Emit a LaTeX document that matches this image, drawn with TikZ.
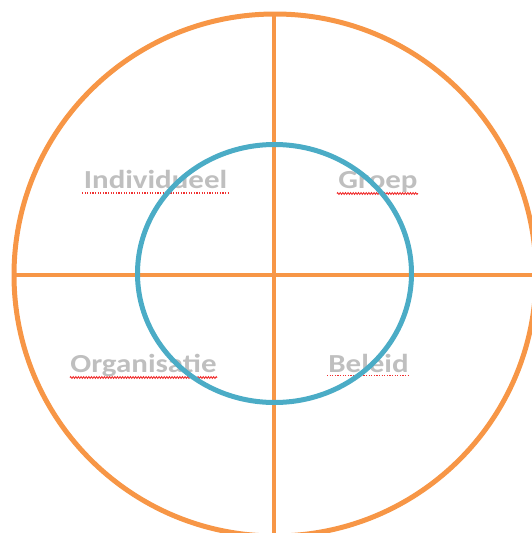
\documentclass[tikz,border=0pt]{standalone}
\usepackage{fontspec}
\setmainfont{Carlito}
\usetikzlibrary{decorations.pathmorphing}
\definecolor{ringorange}{HTML}{F79646}
\definecolor{ringblue}{HTML}{4BACC6}
\definecolor{labelgray}{HTML}{BFBFBF}
\definecolor{spellred}{HTML}{F03030}
\newcommand{\widelabel}[1]{\scalebox{1.19}[1]{#1}}
\tikzset{
  ring/.style={draw=ringorange, line width=5pt},
  axis/.style={draw=ringorange, line width=4.5pt},
  core/.style={draw=ringblue, line width=5pt},
  quadlabel/.style={text=labelgray, font=\fontsize{26}{30}\selectfont\bfseries, anchor=base, inner sep=0pt},
  spelldots/.style={draw=spellred, line width=1.2pt, dash pattern=on 1.2pt off 1.4pt},
  spellwave/.style={draw=spellred, line width=0.9pt, decorate, decoration={zigzag, segment length=2.6pt, amplitude=0.9pt}}
}
\begin{document}
\begin{tikzpicture}[x=1pt, y=-1pt]
  \useasboundingbox (0,0) rectangle (532,533);
  \clip (0,0) rectangle (532,533);
  % outer ring and the two axes
  \coordinate (c) at (275,275);
  \draw[ring] (c) circle[radius=261];
  \coordinate (top) at (274,14);
  \coordinate (bottom) at (274,540);
  \coordinate (left) at (14,275);
  \coordinate (right) at (540,275);
  \draw[axis] (top) -- (bottom);
  \draw[axis] (left) -- (right);
  % quadrant labels
  \node[quadlabel] (ind) at (155.5,188) {\widelabel{Individueel}};
  \node[quadlabel] (grp) at (378,188) {\widelabel{Groep}};
  \node[quadlabel] (org) at (143.5,372) {\widelabel{Organisatie}};
  \node[quadlabel] (bel) at (368.5,372) {\widelabel{Beleid}};
  % spell-check underlines
  \draw[spelldots] (82,193) -- (228,193);
  \draw[spellwave] (337,193.5) -- (418,193.5);
  \draw[spellwave] (70,377.5) -- (217,377.5);
  \draw[spelldots] (327,375.5) -- (410,375.5);
  % inner ring
  \draw[core] (274.5,273.5) ellipse[x radius=137, y radius=129];
\end{tikzpicture}
\end{document}
